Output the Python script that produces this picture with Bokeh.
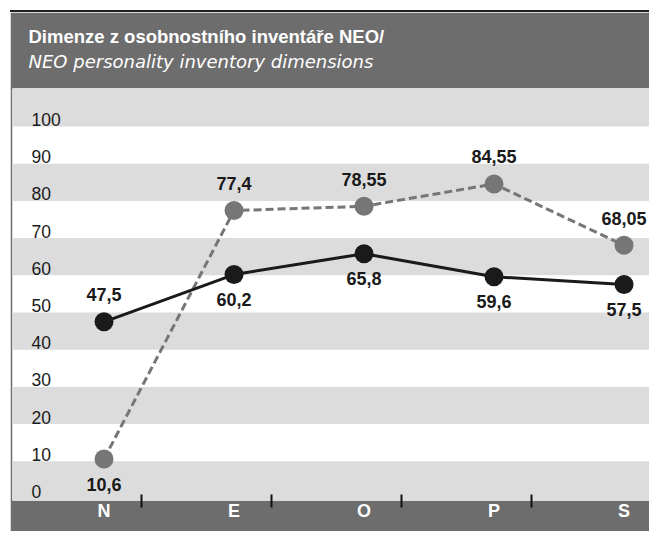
from bokeh.plotting import figure
from bokeh.models import Range1d, FixedTicker, Title, ColumnDataSource
from bokeh.core.properties import value
from bokeh.embed import file_html
from bokeh.resources import INLINE

# ---- data ----
categories = ["N", "E", "O", "P", "S"]
series_black = [47.5, 60.2, 65.8, 59.6, 57.5]
series_gray = [10.6, 77.4, 78.55, 84.55, 68.05]
y_ticks = [0, 10, 20, 30, 40, 50, 60, 70, 80, 90, 100]
title_main = "Dimenze z osobnostního inventáře NEO/"
title_sub = "NEO personality inventory dimensions"

# ---- style ----
FONT = "Liberation Sans"
SUBFONT = "DejaVu Sans"
DARK = "#6d6d6d"
BAND = "#dcdcdc"
INK = "#1a1a1a"
GRAY = "#767676"

X0, X1 = -0.704, 4.196
Y0, Y1 = -0.54, 110.21

p = figure(width=639, height=521, x_range=Range1d(X0, X1), y_range=Range1d(Y0, Y1),
           output_backend="svg", toolbar_location=None,
           min_border_left=2, min_border_right=0, min_border_top=76, min_border_bottom=33,
           border_fill_color=DARK, background_fill_color="white", outline_line_color=None,
           margin=(10, 0, 0, 10), styles={"border-top": "2px solid #1e1e1e"})

p.xgrid.visible = False
p.ygrid.visible = False
p.yaxis.visible = False

# alternating bands
b_bottom, b_top = [], []
for t in y_ticks:
    if (t // 10) % 2 == 0:
        b_bottom.append(Y0 if t == y_ticks[0] else t)
        b_top.append(Y1 if t == y_ticks[-1] else t + 10)
p.quad(left=X0, right=X1, bottom=b_bottom, top=b_top, fill_color=BAND, line_color=None)

# y tick labels inside the plot
p.text(x=[X0] * len(y_ticks), y=y_ticks, text=[str(t) for t in y_ticks],
       x_offset=19, y_offset=-7, text_align="left", text_baseline="middle",
       text_font=value(FONT), text_font_size="17.5px", text_color=INK)

xs = list(range(len(categories)))

# series
p.line(xs, series_gray, line_color=GRAY, line_width=3, line_dash="8 4")
p.scatter(xs, series_gray, size=19, fill_color=GRAY, line_color=None)
p.line(xs, series_black, line_color=INK, line_width=3)
p.scatter(xs, series_black, size=19, fill_color=INK, line_color=None)

def fmt(v):
    return ("%g" % v).replace(".", ",")

lx, ly, lt, lo = [], [], [], []
for i in xs:
    for s, other in ((series_black, series_gray), (series_gray, series_black)):
        lx.append(i)
        ly.append(s[i])
        lt.append(fmt(s[i]))
        lo.append(-27 if s[i] > other[i] else 25)
src = ColumnDataSource(dict(x=lx, y=ly, t=lt, o=lo))
p.text(x="x", y="y", text="t", y_offset="o", source=src, text_align="center",
       text_baseline="middle", text_font=value(FONT), text_font_style="bold",
       text_font_size="18px", text_color=INK)

# x axis
ax = p.xaxis[0]
ax.ticker = FixedTicker(ticks=xs, minor_ticks=[i + 0.288 for i in xs[:-1]])
ax.major_label_overrides = {i: c for i, c in zip(xs, categories)}
ax.axis_line_color = None
ax.major_tick_line_color = None
ax.major_tick_in = 0
ax.major_tick_out = 0
ax.minor_tick_line_color = "#111111"
ax.minor_tick_line_width = 2
ax.minor_tick_in = 6
ax.minor_tick_out = 7
ax.major_label_standoff = -7
ax.major_label_text_color = "white"
ax.major_label_text_font = FONT
ax.major_label_text_font_style = "bold"
ax.major_label_text_font_size = "18px"

# titles (added bottom-up)
p.add_layout(Title(text=title_sub, text_font=SUBFONT, text_font_style="italic",
                   text_font_size="18px", text_color="white", align="left",
                   vertical_align="top", offset=16, standoff=30), "above")
p.add_layout(Title(text=title_main, text_font=FONT, text_font_style="bold",
                   text_font_size="18.5px", text_color="white", align="left",
                   offset=16, standoff=-22), "above")

open("out.html", "w").write(file_html(p, INLINE))
